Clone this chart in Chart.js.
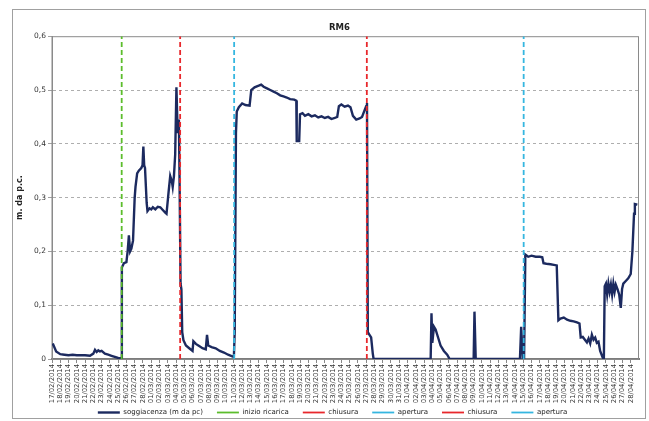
<!DOCTYPE html>
<html>
<head>
<meta charset="utf-8">
<script src="https://cdn.jsdelivr.net/npm/chart.js@4.4.0/dist/chart.umd.min.js"></script>
<style>
  html, body { margin: 0; padding: 0; background: #fff; }
</style>
</head>
<body>
<canvas id="chart1" width="649" height="421"></canvas>
<script>
/* tick labels, one per day (x = days since 17/02/2014) */
const dateLabels = [
  '17/02/2014','18/02/2014','19/02/2014','20/02/2014','21/02/2014','22/02/2014','23/02/2014','24/02/2014',
  '25/02/2014','26/02/2014','27/02/2014','28/02/2014',
  '01/03/2014','02/03/2014','03/03/2014','04/03/2014','05/03/2014','06/03/2014','07/03/2014','08/03/2014',
  '09/03/2014','10/03/2014','11/03/2014','12/03/2014','13/03/2014','14/03/2014','15/03/2014','16/03/2014',
  '17/03/2014','18/03/2014','19/03/2014','20/03/2014','21/03/2014','22/03/2014','23/03/2014','24/03/2014',
  '25/03/2014','26/03/2014','27/03/2014','28/03/2014','29/03/2014','30/03/2014','31/03/2014',
  '01/04/2014','02/04/2014','03/04/2014','04/04/2014','05/04/2014','06/04/2014','07/04/2014','08/04/2014',
  '09/04/2014','10/04/2014','11/04/2014','12/04/2014','13/04/2014','14/04/2014','15/04/2014','16/04/2014',
  '17/04/2014','18/04/2014','19/04/2014','20/04/2014','21/04/2014','22/04/2014','23/04/2014','24/04/2014',
  '25/04/2014','26/04/2014','27/04/2014','28/04/2014'
];

/* soggiacenza readings: day offset and value (m da p.c.) */
const soggDays = [
  0, 0.15, 0.5, 1, 1.5, 2, 2.5, 3, 3.5, 4, 4.6, 5, 5.2, 5.4, 5.6, 5.8, 6, 6.4, 6.8, 7.2, 7.6, 8, 8.4,
  8.45, 8.7, 9, 9.15, 9.3, 9.45, 9.6, 9.8, 10, 10.1, 10.3, 10.5, 10.8, 10.95, 11.05, 11.15, 11.25, 11.45,
  11.55, 11.8, 12, 12.2, 12.5, 12.8, 13.1, 13.4, 13.7, 13.85, 14.1, 14.3, 14.5, 14.6, 14.75, 14.9,
  15.05, 15.2, 15.35, 15.45, 15.55, 15.65, 15.75, 15.9, 16.2, 16.6, 17, 17.1, 17.4, 17.8, 18.2, 18.6,
  18.75, 18.9, 19.3, 19.8, 20.3, 20.8, 21.3, 21.8, 22, 22.1, 22.25, 22.35, 22.6, 23, 23.4, 23.9,
  24.1, 24.5, 25, 25.3, 25.6, 26, 26.4, 26.8, 27.2, 27.6, 28, 28.4, 28.8, 29.3, 29.55, 29.6, 29.9,
  30, 30.3, 30.6, 31, 31.4, 31.8, 32.2, 32.6, 33, 33.4, 33.8, 34.2, 34.5, 34.7, 35, 35.4, 35.8, 36.1,
  36.4, 36.8, 37.2, 37.5, 37.8, 38, 38.1, 38.2, 38.4, 38.6, 38.8, 38.9,
  45.8, 45.9, 46, 46.2, 46.4, 46.7, 47, 47.4, 47.8, 48.1,
  51, 51.1, 51.25, 56.6, 56.75, 56.95, 57.1, 57.25,
  57.6, 58, 58.5, 59, 59.3, 59.45, 59.8, 60.3, 60.7, 61.05, 61.25, 61.5, 61.9, 62.3, 62.7, 63.1, 63.5,
  63.8, 63.95, 64.2, 64.5, 64.7, 64.9, 65.1, 65.3, 65.5, 65.7, 65.9, 66.1, 66.3, 66.6, 66.75,
  66.85, 67, 67.15, 67.3, 67.45, 67.6, 67.75, 67.9, 68.05, 68.2, 68.4, 68.6, 68.8, 68.95, 69.1, 69.4,
  69.7, 70, 70.2, 70.4, 70.5, 70.8
];
const soggValues = [
  0.026, 0.027, 0.014, 0.009, 0.008, 0.007, 0.008, 0.007, 0.007, 0.007, 0.006, 0.01, 0.017, 0.013, 0.016, 0.014, 0.015, 0.010, 0.008, 0.006, 0.004, 0.002, 0.001,
  0.17, 0.178, 0.18, 0.2, 0.23, 0.2, 0.205, 0.22, 0.3, 0.32, 0.345, 0.35, 0.355, 0.36, 0.395, 0.36, 0.355, 0.29,
  0.275, 0.28, 0.278, 0.282, 0.278, 0.283, 0.282, 0.277, 0.272, 0.27, 0.31, 0.34, 0.33, 0.32, 0.34, 0.38,
  0.505, 0.42, 0.445, 0.3, 0.14, 0.13, 0.05, 0.035, 0.025, 0.02, 0.015, 0.033, 0.028, 0.024, 0.02, 0.018,
  0.045, 0.025, 0.022, 0.02, 0.015, 0.012, 0.008, 0.005, 0.004, 0.05, 0.42, 0.46, 0.468, 0.475, 0.472, 0.471,
  0.5, 0.505, 0.508, 0.51, 0.506, 0.503, 0.5, 0.497, 0.494, 0.49, 0.488, 0.486, 0.483, 0.482, 0.48, 0.405, 0.405,
  0.455, 0.457, 0.452, 0.455, 0.451, 0.453, 0.449, 0.451, 0.448, 0.45, 0.446, 0.448, 0.45, 0.47, 0.473, 0.469, 0.471, 0.468,
  0.452, 0.445, 0.447, 0.45, 0.462, 0.47, 0.476, 0.05, 0.045, 0.04, 0.01, 0,
  0, 0.085, 0.03, 0.06, 0.055, 0.04, 0.025, 0.015, 0.008, 0,
  0, 0.088, 0, 0, 0.06, 0, 0, 0.194,
  0.19, 0.192, 0.19, 0.19, 0.189, 0.178, 0.177, 0.176, 0.175, 0.174, 0.072, 0.075, 0.077, 0.073, 0.071, 0.07, 0.068,
  0.066, 0.04, 0.041, 0.035, 0.031, 0.038, 0.029, 0.045, 0.036, 0.04, 0.03, 0.032, 0.015, 0.003, 0,
  0.135, 0.14, 0.12, 0.14, 0.125, 0.138, 0.12, 0.14, 0.125, 0.138, 0.13, 0.12, 0.095, 0.13, 0.14, 0.145,
  0.15, 0.158, 0.2, 0.27, 0.288, 0.287
];

/* event markers (vertical dashed lines) */
const eventLabels = ['inizio ricarica', 'chiusura', 'apertura', 'chiusura', 'apertura'];
const eventDays = [8.43, 15.5, 22.03, 38.08, 57.05];

const yTicks = [0, 0.1, 0.2, 0.3, 0.4, 0.5, 0.6];

const navy = '#1c2a5f';
const eventColors = ['#5cbd2c', '#e8282c', '#35b6e0', '#e8282c', '#35b6e0'];

const datasets = [{
  label: 'soggiacenza (m da pc)',
  data: soggDays.map((d, i) => ({x: d, y: soggValues[i]})),
  borderColor: navy,
  backgroundColor: navy,
  borderWidth: 2.4,
  pointRadius: 0,
  pointStyle: 'line',
  tension: 0,
  order: 1
}];
eventLabels.forEach((lab, i) => {
  datasets.push({
    label: lab,
    data: [{x: eventDays[i], y: 0}, {x: eventDays[i], y: 0.6}],
    borderColor: eventColors[i],
    backgroundColor: eventColors[i],
    borderWidth: 1.8,
    borderDash: [5, 3],
    pointRadius: 0,
    pointStyle: 'line',
    order: 0
  });
});

/* outer frame and plot border, like the Excel chart box */
const framePlugin = {
  id: 'frame',
  afterLayout(chart) {
    // pull the legend up under the date labels, nudge it and the title to match the original
    const lg = chart.legend;
    const h = lg.bottom - lg.top;
    lg.top = 395;
    lg.bottom = lg.top + h;
    lg.left += 7;
    lg.right += 7;
    const t = chart.titleBlock;
    t.left -= 6;
    t.right -= 6;
  },
  beforeDraw(chart) {
    const c = chart.ctx;
    c.save();
    c.fillStyle = '#fff';
    c.fillRect(0, 0, chart.width, chart.height);
    c.strokeStyle = '#a0a0a0';
    c.lineWidth = 1;
    c.strokeRect(12.5, 9.5, 633, 409);
    c.restore();
  },
  beforeDatasetsDraw(chart) {
    const a = chart.chartArea;
    const c = chart.ctx;
    c.save();
    c.strokeStyle = '#8a8a8a';
    c.lineWidth = 1;
    c.strokeRect(a.left, a.top + 0.5, a.right - a.left - 0.5, a.bottom - a.top);
    c.restore();
  }
};

const chart1 = document.getElementById('chart1');
const myChart1 = new Chart(chart1, {
  type: 'line',
  data: { datasets: datasets },
  plugins: [framePlugin],
  options: {
    responsive: false,
    animation: false,
    devicePixelRatio: 1,
    layout: { padding: { left: 12, right: 10, top: 23, bottom: -17 } },
    plugins: {
      title: {
        display: true,
        text: 'RM6',
        fullSize: false,
        color: '#222',
        font: { family: 'DejaVu Sans', size: 8.5, weight: 'bold' },
        padding: { top: 0, bottom: 3 }
      },
      legend: {
        position: 'bottom',
        labels: {
          usePointStyle: true,
          pointStyleWidth: 22,
          boxHeight: 7,
          padding: 14,
          color: '#222',
          font: { family: 'DejaVu Sans', size: 7 },
          sort: (a, b) => a.datasetIndex - b.datasetIndex
        }
      },
      tooltip: { enabled: false }
    },
    scales: {
      x: {
        type: 'linear',
        min: 0,
        max: 71,
        afterFit: (s) => { s.height = 48; },
        ticks: {
          stepSize: 1,
          maxTicksLimit: 100,
          autoSkip: false,
          minRotation: 90,
          maxRotation: 90,
          padding: 1,
          color: '#333',
          font: { family: 'DejaVu Sans', size: 6.8 },
          callback: (v) => (dateLabels[v] !== undefined ? dateLabels[v] : null)
        },
        grid: { drawOnChartArea: false, tickLength: 4, color: '#888' },
        border: { color: '#7c7c7c', width: 2 }
      },
      y: {
        min: 0,
        max: 0.6,
        afterFit: (s) => { s.width = 40; },
        afterBuildTicks: (s) => { s.ticks = yTicks.map(v => ({value: v})); },
        ticks: {
          padding: 2,
          color: '#333',
          font: { family: 'DejaVu Sans', size: 7.5 },
          callback: (v) => (v === 0 ? '0' : v.toFixed(1).replace('.', ','))
        },
        grid: {
          color: (c) => (c.tick && (c.tick.value < 0.001 || c.tick.value > 0.599)) ? 'rgba(0,0,0,0)' : '#9a9a9a',
          tickColor: '#888',
          tickLength: 4,
          lineWidth: 0.8
        },
        border: { color: '#8a8a8a', width: 1, dash: [3, 3] },
        title: {
          display: true,
          text: 'm. da p.c.',
          color: '#222',
          font: { family: 'DejaVu Sans', size: 8, weight: 'bold' },
          padding: { top: 3, bottom: 0 }
        }
      }
    }
  }
});
</script>
</body>
</html>
